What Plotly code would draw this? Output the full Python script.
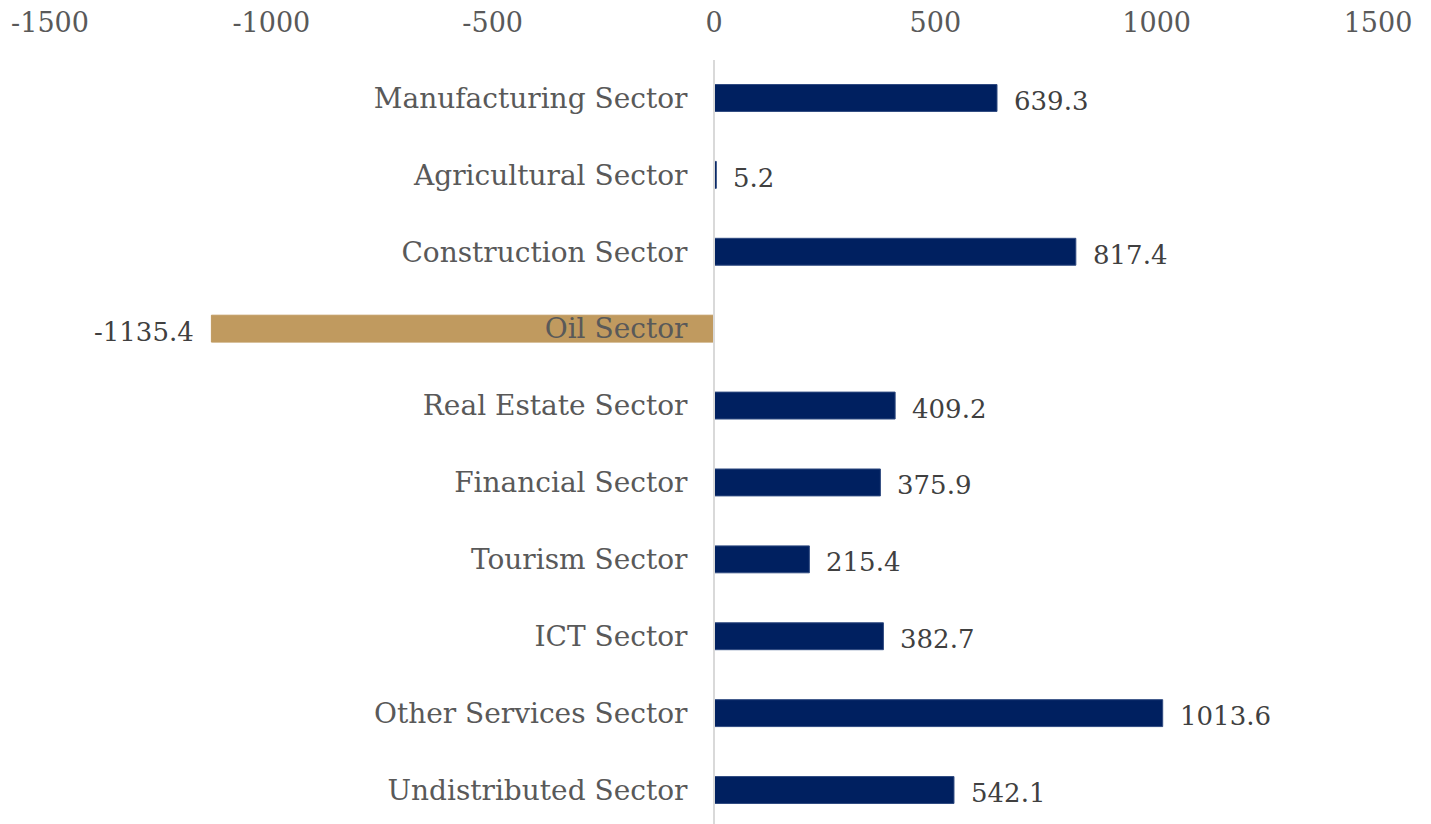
import plotly.graph_objects as go

categories = ["Manufacturing Sector", "Agricultural Sector", "Construction Sector", "Oil Sector",
              "Real Estate Sector", "Financial Sector", "Tourism Sector", "ICT Sector",
              "Other Services Sector", "Undistributed Sector"]
values = [639.3, 5.2, 817.4, -1135.4, 409.2, 375.9, 215.4, 382.7, 1013.6, 542.1]
tick_vals = [-1500, -1000, -500, 0, 500, 1000, 1500]
tick_text = ["-1500", "-1000", "-500", "0", "500", "1000", "1500"]

NAVY = "#002060"
NAVY_EDGE = "#2F4A80"
GOLD = "#C09A5F"
FONT = "DejaVu Serif"

colors = [GOLD if v < 0 else NAVY for v in values]
edges = [GOLD if v < 0 else NAVY_EDGE for v in values]

fig = go.Figure()
fig.add_trace(go.Bar(
    x=values, y=categories, orientation="h",
    marker=dict(color=colors, line=dict(color=edges, width=1)),
    width=0.35, hoverinfo="x+y",
))

for c, v in zip(categories, values):
    fig.add_annotation(
        x=v, y=c, xref="x", yref="y", text=f"{v:.1f}", showarrow=False,
        xanchor="left" if v >= 0 else "right",
        xshift=15 if v >= 0 else -15, yshift=-3,
        font=dict(family=FONT, size=26, color="#404040"),
    )

fig.update_layout(
    width=1431, height=824,
    margin=dict(l=42, r=61, t=52, b=0),
    paper_bgcolor="white", plot_bgcolor="white",
    showlegend=False,
    font=dict(family=FONT),
    xaxis=dict(
        side="top", range=[-1500, 1500], tickvals=tick_vals, ticktext=tick_text,
        showgrid=False, zeroline=False, showline=False, ticks="",
        tickfont=dict(family=FONT, size=27, color="#595959"),
        ticklabelstandoff=22,
    ),
    yaxis=dict(
        type="category", categoryorder="array", categoryarray=categories,
        range=[9.546, -0.494],
        anchor="free", position=0.5, side="left",
        showgrid=False, zeroline=False,
        showline=True, linecolor="#D9D9D9", linewidth=2,
        ticks="", ticklabelstandoff=20,
        tickfont=dict(family=FONT, size=28, color="#595959"),
    ),
)

fig.write_html("out.html")
